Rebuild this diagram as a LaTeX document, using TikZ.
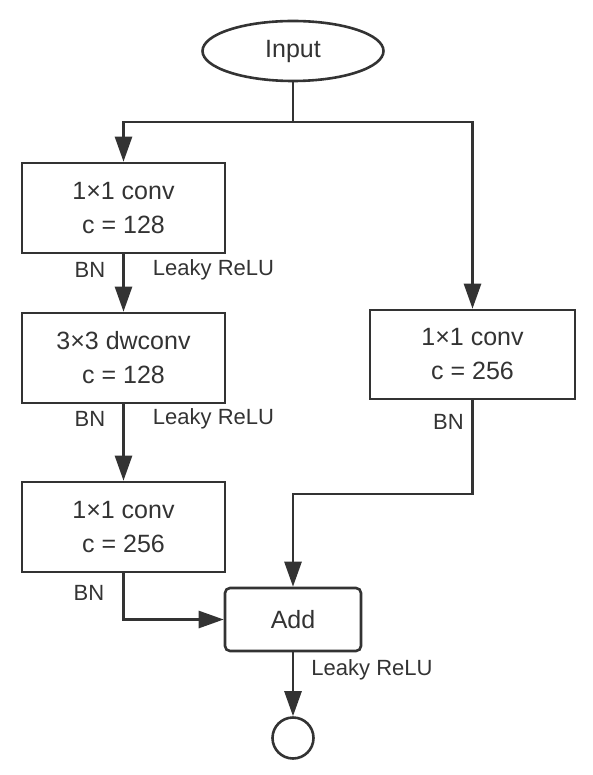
\documentclass[tikz,border=0pt]{standalone}
\usepackage{fontspec}
\setmainfont{Liberation Sans}
\usetikzlibrary{shapes.geometric,arrows.meta}
\definecolor{ink}{HTML}{333333}
\tikzset{
  every node/.style={text=ink},
  stepbox/.style={draw=ink, line width=2.6pt, minimum width=203pt, minimum height=90pt, inner sep=0pt, align=center, font=\fontsize{25}{34}\selectfont},
  addbox/.style={draw=ink, line width=2.6pt, rounded corners=5pt, minimum width=136pt, minimum height=63pt, inner sep=0pt, font=\fontsize{25}{28}\selectfont},
  inbox/.style={draw=ink, ellipse, line width=2.6pt, minimum width=181pt, minimum height=60pt, inner sep=0pt, font=\fontsize{25}{30}\selectfont},
  outbox/.style={draw=ink, circle, line width=2.6pt, minimum size=41pt, inner sep=0pt},
  lbl/.style={font=\fontsize{22}{26}\selectfont, inner sep=0pt},
  conn/.style={draw=ink, line width=2.6pt},
  arr/.style={conn, -{Triangle[length=25pt,width=17pt]}}
}
\begin{document}
\begin{tikzpicture}[x=1pt,y=-1pt]
\useasboundingbox (0,0) rectangle (592,775);
\node[inbox] (in) at (293,51) {Input};
\node[stepbox] (b1) at (123.5,208) {1×1 conv\\c = 128};
\node[stepbox] (b2) at (123.5,358) {3×3 dwconv\\c = 128};
\node[stepbox] (b3) at (123.5,527) {1×1 conv\\c = 256};
\node[stepbox, minimum width=205pt, minimum height=89pt] (b4) at (472.5,354.5) {1×1 conv\\c = 256};
\node[addbox] (add) at (293,619.5) {Add};
\node[outbox] (out) at (293,738) {};
\coordinate (j) at (293,122);
\coordinate (k) at (293,494);
\draw[conn] (in.south) -- (j);
\draw[arr] (j) -| (b1.north);
\draw[arr] (j) -| (b4.north);
\draw[arr] (b1.south) -- (b2.north);
\draw[arr] (b2.south) -- (b3.north);
\draw[arr] (b3.south) |- (add.west);
\draw[arr] (b4.south) |- (k) -- (add.north);
\draw[arr] (add.south) -- (out.north);
\node[lbl] (bn1) at (90,270) {BN};
\node[lbl] (lr1) at (213.5,270) {Leaky ReLU};
\node[lbl] (bn2) at (90,419) {BN};
\node[lbl] (lr2) at (213.5,419) {Leaky ReLU};
\node[lbl] (bn3) at (89,593) {BN};
\node[lbl, anchor=east] (bn4) at (464,422) {BN};
\node[lbl] (lr3) at (372,670) {Leaky ReLU};
\end{tikzpicture}
\end{document}
